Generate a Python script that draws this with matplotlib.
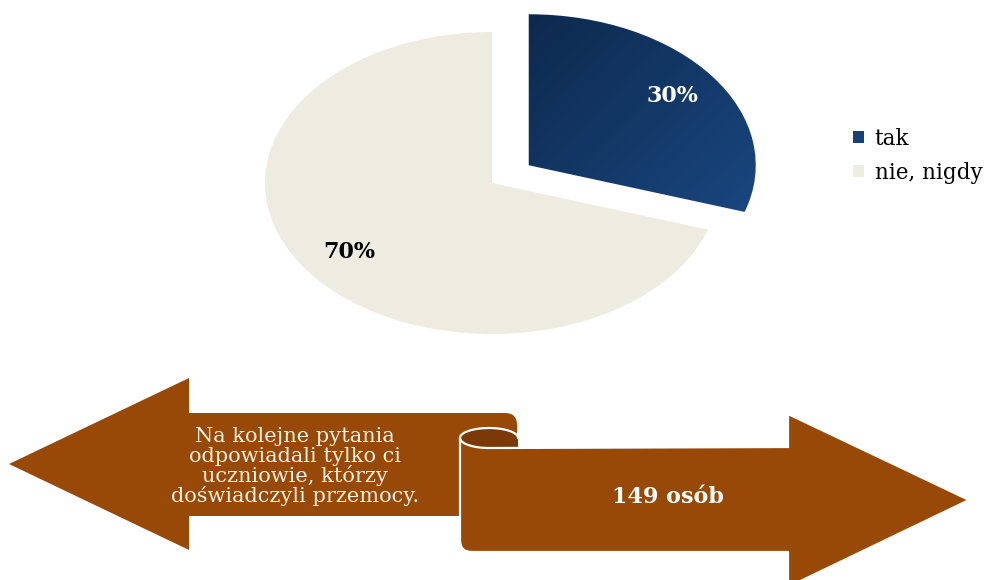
import numpy as np
import matplotlib
matplotlib.use("Agg")
import matplotlib.pyplot as plt
from matplotlib.path import Path
from matplotlib.patches import PathPatch, Patch
from matplotlib.colors import LinearSegmentedColormap

# data
labels = ["tak", "nie, nigdy"]
values = [30, 70]
explode = [0.2, 0.0]
note_text = "Na kolejne pytania\nodpowiadali tylko ci\nuczniowie, którzy\ndoświadczyli przemocy."
count_text = "149 osób"

BLUE_DARK = "#0c2749"
BLUE_LIGHT = "#1b4a86"
BEIGE = "#eeece1"
BROWN = "#984807"
BROWN_DARK = "#7a3906"
SERIF = "DejaVu Serif"

W, H = 996, 580
fig = plt.figure(figsize=(W / 100, H / 100), dpi=100)
fig.patch.set_facecolor("white")

# ---- pie (stretched into an ellipse) ----
cx, cy = 492, 183          # pie centre in pixels
rx, ry = 227, 151          # pixel radius along x / y
lim = 1.3
pw, ph = 2 * lim * rx, 2 * lim * ry
pax = fig.add_axes([(cx - pw / 2) / W, (H - cy - ph / 2) / H, pw / W, ph / H])
wedges, texts, autotexts = pax.pie(
    values, explode=explode, startangle=90, counterclock=False,
    colors=[BLUE_LIGHT, BEIGE], autopct="%d%%", pctdistance=0.78,
    wedgeprops=dict(linewidth=0),
    textprops=dict(family=SERIF, fontsize=16, fontweight="bold"))
pax.set_aspect("auto")
pax.axis("off")
autotexts[0].set_color("white")
autotexts[1].set_color("black")

# gradient on the blue slice: dark top-left -> lighter bottom-right
gx, gy = np.meshgrid(np.linspace(0, 1, 200), np.linspace(0, 1, 200))
grad = (gx + gy) / 2
cmap = LinearSegmentedColormap.from_list("b", [BLUE_DARK, BLUE_LIGHT])
im = pax.imshow(grad, extent=(0.1, 1.25, -0.4, 1.25), origin="upper",
                cmap=cmap, aspect="auto", zorder=wedges[0].get_zorder())
im.set_clip_path(wedges[0])
wedges[0].set_facecolor("none")
pax.set_xlim(-lim, lim)
pax.set_ylim(-lim, lim)

handles = [Patch(facecolor="#16407a", edgecolor="none"),
           Patch(facecolor=BEIGE, edgecolor="none")]
fig.legend(handles, labels, loc="upper left",
           bbox_to_anchor=(853 / W, 1 - 128 / H), frameon=False,
           prop=dict(family=SERIF, size=15.5), handlelength=0.5,
           handleheight=0.5, handletextpad=0.5, labelspacing=0.55,
           borderpad=0, borderaxespad=0)

# ---- scroll arrows (pixel coordinates) ----
ax = fig.add_axes([0, 0, 1, 1])
ax.set_xlim(0, W)
ax.set_ylim(H, 0)
ax.axis("off")
ax.patch.set_alpha(0)

M, L, C3, CL = Path.MOVETO, Path.LINETO, Path.CURVE3, Path.CLOSEPOLY

left_verts = [(9, 464), (189, 378), (189, 413), (505, 413), (517, 413), (517, 425),
              (517, 516), (189, 516), (189, 550), (9, 464)]
left_codes = [M, L, L, L, C3, C3, L, L, L, CL]
ax.add_patch(PathPatch(Path(left_verts, left_codes), facecolor=BROWN,
                       edgecolor="none", zorder=2))

# curl of the scroll (ellipse rim)
ex, ey, ea, eb = 489, 438, 29, 10
t_up = np.linspace(np.pi, 0, 40)
t_lo = np.linspace(np.pi / 2, np.pi, 20)
up = np.column_stack([ex + ea * np.cos(t_up), ey - eb * np.sin(t_up)])
lo = np.column_stack([ex + ea * np.cos(t_lo), ey + eb * np.sin(t_lo)])  # bottom -> left
curl = np.vstack([up, [(518, 447)], lo])
ax.add_patch(plt.Polygon(curl, closed=True, facecolor=BROWN_DARK,
                         edgecolor="none", zorder=3))
ax.plot(up[:, 0], up[:, 1], color="white", lw=1.6, zorder=4)

# right arrow, its top-left edge is the front of the curl
arc = lo[::-1]  # left -> bottom
verts = [tuple(p) for p in arc]
codes = [M] + [L] * (len(arc) - 1)
verts += [(788, 447), (788, 414), (969, 500), (788, 587), (788, 552),
          (472, 552), (460, 552), (460, 540), (ex - ea, ey), (ex - ea, ey)]
codes += [L, L, L, L, L, L, C3, C3, L, CL]
ax.add_patch(PathPatch(Path(verts, codes), facecolor=BROWN, edgecolor="white",
                       lw=1.6, zorder=5))

ax.text(295, 467, note_text, color="#f7f1e6", family=SERIF, fontsize=15,
        ha="center", va="center", linespacing=1.0, zorder=6)
ax.text(668, 497, count_text, color="white", family=SERIF, fontsize=16,
        fontweight="bold", ha="center", va="center", zorder=6)

fig.savefig("out.png", dpi=100, facecolor="white")
